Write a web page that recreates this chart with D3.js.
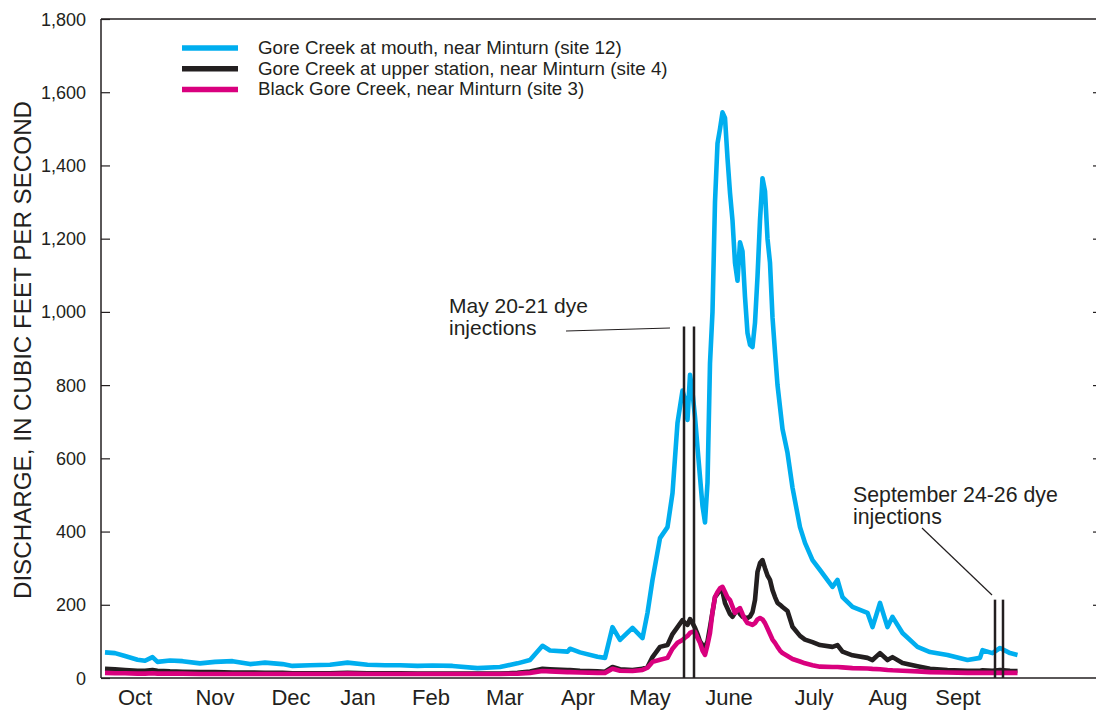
<!DOCTYPE html>
<html>
<head>
<meta charset="utf-8">
<script src="https://cdn.jsdelivr.net/npm/d3@7"></script>
<style>
  body { margin: 0; background: #fff; }
  text { font-family: "Liberation Sans", Arial, Helvetica, sans-serif; fill: #231f20; }
</style>
</head>
<body>
<svg id="chart" width="1096" height="711"></svg>
<script>

// day of water year (0 = Oct 1)
var days = [0,4,8,13,16,19,21,26,31,38,44,51,58,64,71,75,82,90,97,105,
  112,118,125,131,139,149,158,165,170,175,178,185,186,190,197,200,203,206,211,215,
  217,219,222,225,227,229,231,
  232,233,234,235,236,237,238,239,240,241,242,243,244,245,246,247,248,249,250,251,
  252,253,254,255,256,257,258,259,260,261,262,263,264,265,266,267,268,269,270,271,
  273,275,278,280,283,286,291,293,295,299,305,307,310,313,315,319,325,330,337,345,
  350,351,355,358,362,365];

// Gore Creek at mouth (site 12)
var site12 = [70,68,60,50,47,57,44,48,46,40,44,46,38,42,38,33,35,36,42,36,
  35,35,33,34,33,27,30,40,49,88,75,72,80,70,58,55,139,104,137,109,
  178,268,382,412,505,697,785,
  760,705,828,780,713,630,549,470,425,533,860,1000,1300,1460,1500,1545,1530,1420,1325,1250,
  1134,1085,1190,1165,1041,942,910,904,970,1096,1250,1365,1330,1200,1134,985,890,800,740,680,
  615,520,412,369,322,295,249,268,221,194,178,139,205,139,167,123,85,71,63,49,
  55,76,68,82,68,63];

// Gore Creek at upper station (site 4)
var site4 = [25,24,22,20,20,22,20,18,17,16,16,15,15,14,14,13,13,13,14,13,
  13,13,12,12,12,12,12,14,18,25,24,22,22,20,18,17,30,24,22,25,
  30,57,85,90,120,139,158,
  150,145,161,150,137,120,100,90,85,100,139,180,221,230,240,236,205,190,175,167,
  178,186,175,167,165,164,168,180,213,290,314,322,300,280,268,240,221,205,200,194,
  183,140,115,105,98,90,85,90,72,62,55,49,68,49,57,41,32,25,22,20,
  20,21,20,22,20,19];

// Black Gore Creek (site 3)
var site3 = [14,13,13,12,12,13,12,12,12,11,11,11,11,11,11,11,11,11,12,11,
  11,11,11,11,11,11,11,12,14,19,18,16,16,15,14,14,25,20,19,22,
  28,44,50,55,80,96,104,
  110,115,123,126,126,110,96,75,63,90,123,180,221,235,245,249,235,220,213,195,
  178,185,191,175,160,150,148,145,150,160,164,160,150,135,120,105,96,85,75,68,
  60,52,45,40,35,31,30,30,29,27,26,25,24,22,21,20,18,16,15,14,
  14,14,14,14,14,14];

var seriesNames = ["Gore Creek at mouth, near Minturn (site 12)",
                   "Gore Creek at upper station, near Minturn (site 4)",
                   "Black Gore Creek, near Minturn (site 3)"];
var seriesColors = ["#00aeef", "#231f20", "#d9007e"];

var monthLabels = ["Oct","Nov","Dec","Jan","Feb","Mar","Apr","May","June","July","Aug","Sept"];
var monthTickDays = [12,44,74.4,101.2,130.4,160,189.2,218,249.6,283.6,313.2,341.2];

var yTicks = [0,200,400,600,800,1000,1200,1400,1600,1800];

var dyeMay = [231.6, 235.6];
var dyeSep = [356, 359.2];

var margin = {top: 19, right: -7, bottom: 33, left: 101},
    W = 1096, H = 711,
    width = W - margin.left - margin.right,
    height = H - margin.top - margin.bottom;

var svg = d3.select("#chart");
var chart = svg.append("g").attr("transform", "translate(" + margin.left + "," + margin.top + ")");

//================= scales
var x = d3.scaleLinear().domain([-1.6, 399.2]).range([0, width]);
var y = d3.scaleLinear().domain([0, 1800]).range([height, 0]);

//================= frame
var ink = "#231f20";
chart.append("line").attr("x1", 0).attr("x2", 0).attr("y1", 0).attr("y2", height)
     .attr("stroke", ink).attr("stroke-width", 1.5);
chart.append("line").attr("x1", 0).attr("x2", width).attr("y1", 0).attr("y2", 0)
     .attr("stroke", ink).attr("stroke-width", 1.5);
chart.append("line").attr("x1", 0).attr("x2", width).attr("y1", height).attr("y2", height)
     .attr("stroke", ink).attr("stroke-width", 1.5);

// left axis, ticks inside
var yAxisL = chart.append("g")
     .call(d3.axisRight(y).tickValues(yTicks).tickSize(9).tickFormat(""));
yAxisL.select(".domain").remove();
yAxisL.selectAll("line").attr("stroke", ink).attr("stroke-width", 1.2);

// right axis, ticks inside
var yAxisR = chart.append("g")
     .attr("transform", "translate(" + width + ",0)")
     .call(d3.axisLeft(y).tickValues(yTicks.slice(1, -1)).tickSize(10).tickFormat(""));
yAxisR.select(".domain").remove();
yAxisR.selectAll("line").attr("stroke", ink).attr("stroke-width", 1.2);

// y tick labels
chart.selectAll(".ylab").data(yTicks).enter().append("text")
     .attr("class", "ylab")
     .attr("x", -15)
     .attr("y", function(d) { return y(d) + 6.5; })
     .attr("text-anchor", "end")
     .style("font-size", "18px")
     .text(d3.format(","));

// month labels
chart.selectAll(".mlab").data(monthLabels).enter().append("text")
     .attr("class", "mlab")
     .attr("x", function(d, i) { return x(monthTickDays[i]); })
     .attr("y", height + 27)
     .attr("text-anchor", "middle")
     .style("font-size", "22px")
     .text(function(d) { return d; });

// y title
svg.append("text")
   .attr("transform", "translate(31," + 350 + ") rotate(-90)")
   .attr("text-anchor", "middle")
   .style("font-size", "24.2px")
   .text("DISCHARGE, IN CUBIC FEET PER SECOND");

//================= lines
var allSeries = [site12, site4, site3];
allSeries.forEach(function(vals, k) {
  var line = d3.line()
      .x(function(d, i) { return x(days[i]); })
      .y(function(d) { return y(d); });
  chart.append("path")
       .attr("d", line(vals))
       .attr("fill", "none")
       .attr("stroke", seriesColors[k])
       .attr("stroke-width", 4.6)
       .attr("stroke-linejoin", "round");
});

//================= dye injection markers
function dyeLines(ds, top) {
  chart.selectAll(null).data(ds).enter().append("line")
       .attr("x1", function(d) { return x(d); })
       .attr("x2", function(d) { return x(d); })
       .attr("y1", y(top))
       .attr("y2", y(0))
       .attr("stroke", ink)
       .attr("stroke-width", 2.5);
}
dyeLines(dyeMay, 960);
dyeLines(dyeSep, 214);

// annotations
svg.append("text").attr("x", 449).attr("y", 313).style("font-size", "21px").text("May 20-21 dye");
svg.append("text").attr("x", 449).attr("y", 335).style("font-size", "21px").text("injections");
svg.append("line").attr("x1", 566).attr("y1", 331).attr("x2", 670).attr("y2", 328)
   .attr("stroke", ink).attr("stroke-width", 1.2);

svg.append("text").attr("x", 853).attr("y", 502).style("font-size", "21.3px").text("September 24-26 dye");
svg.append("text").attr("x", 853).attr("y", 524).style("font-size", "21.3px").text("injections");
svg.append("line").attr("x1", 922).attr("y1", 528).attr("x2", 992).attr("y2", 595)
   .attr("stroke", ink).attr("stroke-width", 1.2);

//================= legend
var legend = svg.append("g").attr("transform", "translate(182,48)");
seriesNames.forEach(function(name, i) {
  legend.append("line")
        .attr("x1", 0).attr("x2", 56)
        .attr("y1", i * 20.7).attr("y2", i * 20.7)
        .attr("stroke", seriesColors[i]).attr("stroke-width", 5.5);
  legend.append("text")
        .attr("x", 76).attr("y", i * 20.7 + 6)
        .style("font-size", "18.75px")
        .text(name);
});

</script>
</body>
</html>
